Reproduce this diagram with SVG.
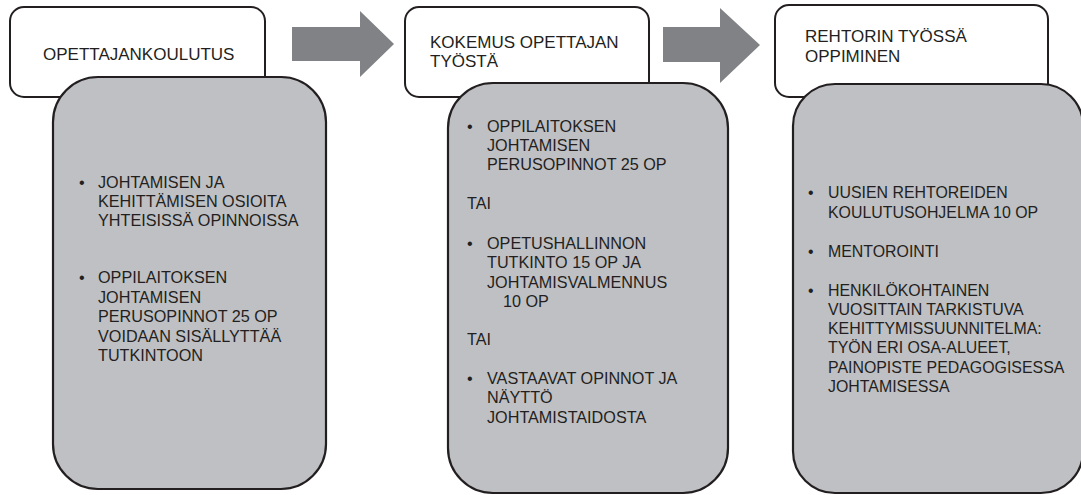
<svg xmlns="http://www.w3.org/2000/svg" width="1081" height="495" viewBox="0 0 1081 495">
<style>
.hdr{fill:#ffffff;stroke:#231f20;stroke-width:2}
.body{fill:#bfc0c4;stroke:#231f20;stroke-width:2.2}
.arrow{fill:#808285;stroke:none}
text{font-family:"Liberation Sans",Arial,sans-serif;fill:#231f20}
.t{font-size:17px}
.b{font-size:16.2px}
.b3{font-size:15.9px}
</style>
<rect width="1081" height="495" fill="#ffffff"/>
<g id="connectors">
<path class="arrow" d="M292,27 H360 V11 L394,44 L360,77 V61 H292 Z"/>
<path class="arrow" d="M663,27 H720 V8 L760,45 L720,83 V62 H663 Z"/>
</g>
<g id="node-opettajankoulutus">
<rect class="hdr" x="10" y="7" width="255" height="90" rx="14"/>
<text class="t" x="43" y="60">OPETTAJANKOULUTUS</text>
</g>
<g id="node-opettajankoulutus-body">
<rect class="body" x="53" y="77" width="273" height="412" rx="45"/>
<text class="b"><tspan x="79" y="188">•</tspan><tspan x="98" y="188">JOHTAMISEN JA</tspan><tspan x="98" y="207">KEHITTÄMISEN OSIOITA</tspan><tspan x="98" y="226">YHTEISISSÄ OPINNOISSA</tspan></text>
<text class="b"><tspan x="79" y="283">•</tspan><tspan x="98" y="283">OPPILAITOKSEN</tspan><tspan x="98" y="303">JOHTAMISEN</tspan><tspan x="98" y="322">PERUSOPINNOT 25 OP</tspan><tspan x="98" y="342">VOIDAAN SISÄLLYTTÄÄ</tspan><tspan x="98" y="361">TUTKINTOON</tspan></text>
</g>
<g id="node-kokemus">
<rect class="hdr" x="405" y="7" width="244" height="90" rx="14"/>
<text class="t"><tspan x="430" y="48">KOKEMUS OPETTAJAN</tspan><tspan x="430" y="67">TYÖSTÄ</tspan></text>
</g>
<g id="node-kokemus-body">
<rect class="body" x="448" y="83" width="280" height="410" rx="45"/>
<text class="b"><tspan x="467" y="132">•</tspan><tspan x="487" y="132">OPPILAITOKSEN</tspan><tspan x="487" y="151">JOHTAMISEN</tspan><tspan x="487" y="170">PERUSOPINNOT 25 OP</tspan></text>
<text class="b" x="467" y="209">TAI</text>
<text class="b"><tspan x="467" y="249">•</tspan><tspan x="487" y="249">OPETUSHALLINNON</tspan><tspan x="487" y="268">TUTKINTO 15 OP JA</tspan><tspan x="487" y="288">JOHTAMISVALMENNUS</tspan><tspan x="503" y="307">10 OP</tspan></text>
<text class="b" x="467" y="345">TAI</text>
<text class="b"><tspan x="467" y="384">•</tspan><tspan x="487" y="384">VASTAAVAT OPINNOT JA</tspan><tspan x="487" y="403">NÄYTTÖ</tspan><tspan x="487" y="423">JOHTAMISTAIDOSTA</tspan></text>
</g>
<g id="node-rehtorin">
<rect class="hdr" x="775" y="5" width="273" height="92" rx="14"/>
<text class="t"><tspan x="805" y="42">REHTORIN TYÖSSÄ</tspan><tspan x="805" y="62">OPPIMINEN</tspan></text>
</g>
<g id="node-rehtorin-body">
<rect class="body" x="793" y="84" width="290" height="409" rx="42"/>
<text class="b3"><tspan x="808" y="198">•</tspan><tspan x="828" y="198">UUSIEN REHTOREIDEN</tspan><tspan x="828" y="218">KOULUTUSOHJELMA 10 OP</tspan></text>
<text class="b3"><tspan x="808" y="257">•</tspan><tspan x="828" y="257">MENTOROINTI</tspan></text>
<text class="b3"><tspan x="808" y="296">•</tspan><tspan x="828" y="296">HENKILÖKOHTAINEN</tspan><tspan x="828" y="315">VUOSITTAIN TARKISTUVA</tspan><tspan x="828" y="334">KEHITTYMISSUUNNITELMA:</tspan><tspan x="828" y="353">TYÖN ERI OSA-ALUEET,</tspan><tspan x="828" y="373">PAINOPISTE PEDAGOGISESSA</tspan><tspan x="828" y="392">JOHTAMISESSA</tspan></text>
</g>
</svg>
